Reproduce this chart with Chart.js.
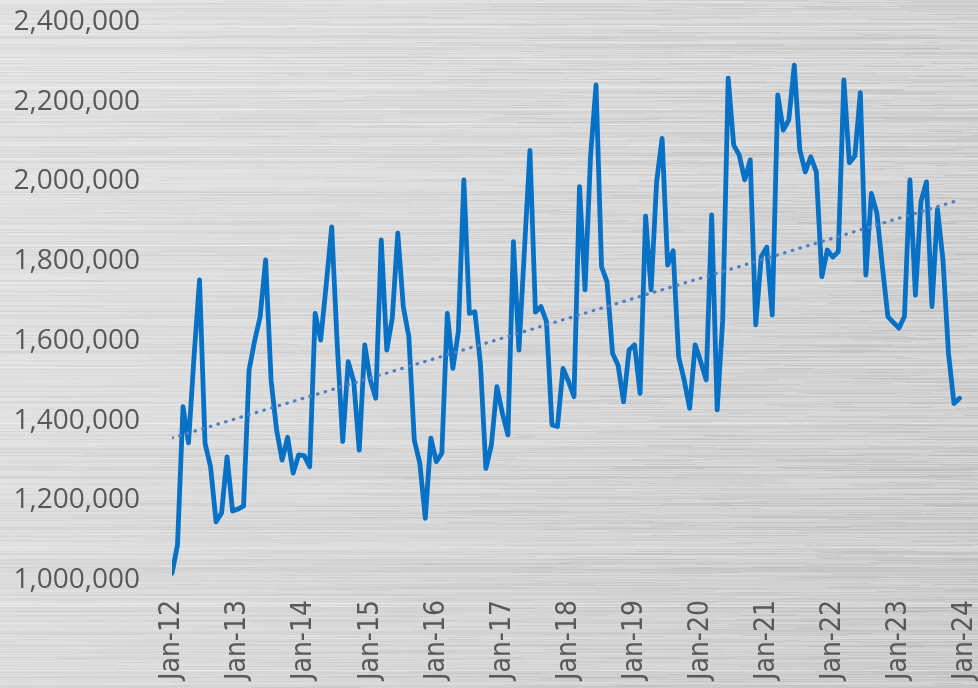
<!DOCTYPE html>
<html>
<head>
<meta charset="utf-8">
<script src="https://cdn.jsdelivr.net/npm/chart.js@4/dist/chart.umd.min.js"></script>
<style>
  html, body { margin: 0; padding: 0; background: #dcdcdc; }
  #wrap { width: 978px; height: 688px; }
</style>
</head>
<body>
<div id="wrap"><canvas id="sales-chart" width="978" height="688"></canvas></div>
<script>
/* monthly totals, Jan-12 .. Dec-23 */
const tickLabels = ['Jan-12', 'Jan-13', 'Jan-14', 'Jan-15', 'Jan-16', 'Jan-17', 'Jan-18',
  'Jan-19', 'Jan-20', 'Jan-21', 'Jan-22', 'Jan-23', 'Jan-24'];

const y2012 = [1017000, 1088000, 1435000, 1344000, 1560000, 1753000, 1343000, 1284000, 1146000, 1168000, 1309000, 1173000];
const y2013 = [1178000, 1186000, 1527000, 1600000, 1660000, 1803000, 1500000, 1376000, 1301000, 1358000, 1268000, 1314000];
const y2014 = [1312000, 1284000, 1669000, 1602000, 1740000, 1886000, 1592000, 1347000, 1548000, 1498000, 1326000, 1590000];
const y2015 = [1502000, 1456000, 1853000, 1577000, 1657000, 1870000, 1686000, 1611000, 1351000, 1293000, 1155000, 1356000];
const y2016 = [1297000, 1318000, 1669000, 1531000, 1623000, 2004000, 1669000, 1673000, 1544000, 1280000, 1339000, 1485000];
const y2017 = [1418000, 1364000, 1849000, 1577000, 1828000, 2078000, 1672000, 1686000, 1648000, 1389000, 1385000, 1531000];
const y2018 = [1498000, 1460000, 1987000, 1728000, 2062000, 2242000, 1786000, 1748000, 1569000, 1539000, 1447000, 1577000];
const y2019 = [1590000, 1468000, 1913000, 1728000, 1999000, 2108000, 1790000, 1826000, 1560000, 1502000, 1431000, 1590000];
const y2020 = [1548000, 1502000, 1916000, 1427000, 1652000, 2259000, 2091000, 2066000, 2004000, 2054000, 1640000, 1811000];
const y2021 = [1835000, 1665000, 2217000, 2129000, 2154000, 2292000, 2079000, 2024000, 2062000, 2024000, 1761000, 1828000];
const y2022 = [1810000, 1824000, 2255000, 2047000, 2064000, 2223000, 1765000, 1970000, 1920000, 1786000, 1661000, 1646000];
const y2023 = [1632000, 1661000, 2004000, 1715000, 1949000, 1999000, 1686000, 1930000, 1803000, 1569000, 1443000, 1456000];

const monthly = [].concat(y2012, y2013, y2014, y2015, y2016, y2017, y2018, y2019, y2020, y2021, y2022, y2023);
const points = monthly.map((v, i) => ({ x: i, y: v }));

// least squares trend over the whole series
function linearTrend(vals) {
  const n = vals.length;
  let sx = 0, sy = 0, sxy = 0, sxx = 0;
  vals.forEach((v, i) => { sx += i; sy += v; sxy += i * v; sxx += i * i; });
  const slope = (n * sxy - sx * sy) / (n * sxx - sx * sx);
  const icpt = (sy - slope * sx) / n;
  return [{ x: 0, y: icpt }, { x: n - 1, y: icpt + slope * (n - 1) }];
}

function mulberry32(a) {
  return function () {
    a |= 0; a = a + 0x6D2B79F5 | 0;
    let t = Math.imul(a ^ a >>> 15, 1 | a);
    t = t + Math.imul(t ^ t >>> 7, 61 | t) ^ t;
    return ((t ^ t >>> 14) >>> 0) / 4294967296;
  };
}

// brushed metal backdrop
const metalBg = {
  id: 'metalBg',
  beforeDraw(chart) {
    const { ctx, width, height } = chart;
    ctx.save();
    const g = ctx.createLinearGradient(0, 0, width, height);
    g.addColorStop(0, '#e6e6e6');
    g.addColorStop(0.45, '#dddddd');
    g.addColorStop(1, '#cfcfcf');
    ctx.fillStyle = g;
    ctx.fillRect(0, 0, width, height);

    const rnd = mulberry32(20120101);
    for (let y = 0; y < height; y++) {
      // whole-row tone
      const rowA = rnd() * 0.09;
      ctx.fillStyle = rnd() > 0.5 ? `rgba(255,255,255,${rowA})` : `rgba(110,110,110,${rowA})`;
      ctx.fillRect(0, y, width, 1);
      // short streaks along the row
      let x = -rnd() * 60;
      while (x < width) {
        const len = 15 + rnd() * 160;
        const a = rnd() * 0.08 * (0.5 + x / width);
        ctx.fillStyle = rnd() > 0.5 ? `rgba(255,255,255,${a})` : `rgba(80,80,80,${a})`;
        ctx.fillRect(x, y, len, 1);
        x += len;
      }
      if (rnd() < 0.025) {
        ctx.fillStyle = 'rgba(255,255,255,0.3)';
        ctx.fillRect(0, y, width, 1);
      }
    }
    ctx.restore();
  }
};

const ctx = document.getElementById('sales-chart');
const salesChart = new Chart(ctx, {
  type: 'line',
  data: {
    datasets: [
      {
        label: 'Total',
        data: points,
        borderColor: '#0671c5',
        borderWidth: 4.8,
        pointRadius: 0,
        tension: 0,
        borderJoinStyle: 'round',
        borderCapStyle: 'round',
        order: 1
      },
      {
        label: 'Linear (Total)',
        data: linearTrend(monthly),
        borderColor: '#4f7fc4',
        borderWidth: 3.2,
        borderDash: [0.5, 7.5],
        borderCapStyle: 'round',
        pointRadius: 0,
        order: 0
      }
    ]
  },
  options: {
    responsive: false,
    animation: false,
    devicePixelRatio: 1,
    layout: { padding: { top: 22, right: 13, left: 0, bottom: 0 } },
    plugins: { legend: { display: false }, tooltip: { enabled: false } },
    scales: {
      x: {
        type: 'linear',
        min: 0,
        max: 144,
        grid: { display: false, drawTicks: false },
        border: { display: false },
        afterBuildTicks: scale => { scale.ticks = tickLabels.map((_, i) => ({ value: i * 12 })); },
        afterFit: scale => {
          scale.height = 108;
          scale.paddingLeft = 0;
          scale.paddingRight = 0;
        },
        ticks: {
          autoSkip: false,
          minRotation: 90,
          maxRotation: 90,
          padding: 20,
          color: '#595959',
          font: { family: '"DejaVu Sans Condensed", "DejaVu Sans"', size: 28 },
          callback: (v, i) => tickLabels[i]
        }
      },
      y: {
        min: 1000000,
        max: 2400000,
        grid: { display: false, drawTicks: false },
        border: { display: false },
        afterFit: scale => {
          scale.width = 172;
          scale.paddingTop = 0;
          scale.paddingBottom = 0;
        },
        ticks: {
          stepSize: 200000,
          padding: 32,
          color: '#595959',
          font: { family: '"Open Sans"', size: 28 },
          callback: v => v.toLocaleString('en-US')
        }
      }
    }
  },
  plugins: [metalBg]
});
</script>
</body>
</html>
